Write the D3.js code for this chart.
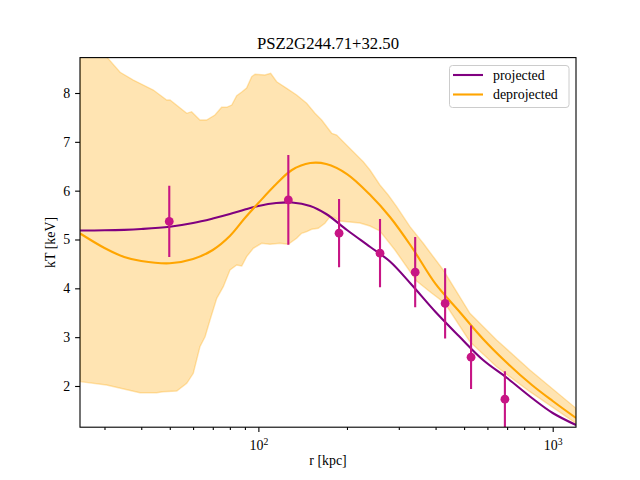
<!DOCTYPE html>
<html>
<head>
<meta charset="utf-8">
<script src="https://cdn.jsdelivr.net/npm/d3@7"></script>
<style>
  body { margin: 0; background: #fff; }
</style>
</head>
<body>
<div id="chart"></div>
<script>
// data points (radius in kpc, temperature in keV)
const pointR = [49.8, 126.4, 188, 259, 341, 431, 528, 688]
const pointT = [5.37, 5.81, 5.13, 4.72, 4.33, 3.69, 2.59, 1.73]
const pointErr = [0.73, 0.92, 0.70, 0.70, 0.72, 0.72, 0.65, 0.57]

// model curves
const curveR = [24.8, 30, 35, 40, 50, 60, 70, 80, 90, 100, 115, 130, 150, 170, 200, 240, 280, 330, 400, 480, 580, 700, 850, 1000, 1200]
const projT = [5.184, 5.188, 5.198, 5.215, 5.262, 5.338, 5.43, 5.522, 5.614, 5.686, 5.747, 5.758, 5.686, 5.522, 5.194, 4.846, 4.549, 4.088, 3.515, 3.024, 2.532, 2.163, 1.754, 1.447, 1.201]
const deprojT = [5.123, 4.826, 4.641, 4.559, 4.512, 4.6, 4.785, 5.071, 5.44, 5.747, 6.136, 6.423, 6.566, 6.546, 6.341, 5.911, 5.461, 4.867, 4.089, 3.536, 2.963, 2.471, 2.02, 1.692, 1.344]

// uncertainty band of deprojected profile
const bandUpR = [24.8, 30.5, 33.9, 37.6, 43.95, 48.8, 50.1, 57.1, 59.3, 63.3, 66.7, 71.2, 75.0, 78.0, 81.2, 84.4, 87.8, 91.2, 94.9, 97.4, 105.3, 110.1, 115.4, 124.8, 134.9, 145.9, 155.7, 164.1, 177.5, 184.5, 194.3, 210.1, 227.2, 239.4, 258.8, 276.2, 295.0, 327.3, 363.2, 377.7, 424.8, 523.2, 644.8, 836.7, 1200]
const bandUpT = [9.05, 8.74, 8.424, 8.266, 8.061, 7.857, 7.857, 7.584, 7.617, 7.447, 7.447, 7.549, 7.707, 7.707, 7.754, 7.945, 8.02, 8.102, 8.334, 8.383, 8.369, 8.403, 8.231, 8.096, 7.959, 7.789, 7.584, 7.447, 7.175, 7.14, 7.003, 6.797, 6.593, 6.423, 6.116, 5.911, 5.672, 5.262, 4.922, 4.785, 4.375, 3.488, 2.942, 2.327, 1.543]
const bandLoR = [24.8, 30.5, 39.6, 45.1, 47.4, 52.8, 57.1, 60.1, 63.3, 65.9, 68.5, 72.2, 76.0, 80.1, 84.4, 87.8, 91.2, 96.1, 102.6, 109.5, 118.4, 126.3, 134.9, 140.3, 145.9, 151.7, 159.7, 168.3, 175.1, 181, 189.3, 204.8, 221.4, 239.4, 258.8, 291.1, 344.9, 382.7, 430.4, 523.2, 644.8, 836.7, 1200]
const bandLoT = [2.09, 2.02, 1.862, 1.862, 1.883, 1.897, 2.055, 2.26, 2.804, 3.009, 3.351, 3.796, 4.033, 4.375, 4.478, 4.457, 4.648, 4.82, 4.922, 4.902, 4.922, 4.902, 5.024, 5.127, 5.16, 5.209, 5.229, 5.332, 5.467, 5.45, 5.379, 5.358, 5.338, 5.276, 5.174, 4.785, 4.15, 3.931, 3.693, 2.907, 2.395, 1.883, 1.236]

const yTicks = [2, 3, 4, 5, 6, 7, 8]
const xMajor = [100, 1000]
const xMinor = [30, 40, 50, 60, 70, 80, 90, 200, 300, 400, 500, 600, 700, 800, 900]

const W = 640, H = 480
const margin = {top: 57.6, right: 64, bottom: 52.8, left: 80}
const FONT = "'Liberation Serif', 'Times New Roman', serif"

const svg = d3.select("#chart")
  .append("svg")
  .attr("width", W)
  .attr("height", H)
  .style("font-family", FONT)

const x = d3.scaleLog()
  .domain([24.77, 1200])
  .range([margin.left, W - margin.right])
const y = d3.scaleLinear()
  .domain([1.156, 8.725])
  .range([H - margin.bottom, margin.top])

svg.append("clipPath").attr("id", "plot")
  .append("rect")
  .attr("x", margin.left).attr("y", margin.top)
  .attr("width", W - margin.left - margin.right)
  .attr("height", H - margin.top - margin.bottom)

const g = svg.append("g").attr("clip-path", "url(#plot)")

// band
const up = bandUpR.map((r, i) => [x(r), y(bandUpT[i])])
const lo = bandLoR.map((r, i) => [x(r), y(bandLoT[i])]).reverse()
g.append("path")
  .attr("d", d3.line().curve(d3.curveLinearClosed)(up.concat(lo)))
  .attr("fill", "#ffa500")
  .attr("fill-opacity", 0.3)
  .attr("stroke", "#ffa500")
  .attr("stroke-opacity", 0.3)
  .attr("stroke-width", 1.4)

const line = d3.line()
  .x(d => x(d[0]))
  .y(d => y(d[1]))
  .curve(d3.curveCatmullRom.alpha(0.5))

g.append("path")
  .attr("d", line(curveR.map((r, i) => [r, projT[i]])))
  .attr("fill", "none")
  .attr("stroke", "purple")
  .attr("stroke-width", 2.1)

g.append("path")
  .attr("d", line(curveR.map((r, i) => [r, deprojT[i]])))
  .attr("fill", "none")
  .attr("stroke", "orange")
  .attr("stroke-width", 2.1)

// error bars + points
const pts = pointR.map((r, i) => ({r: r, t: pointT[i], e: pointErr[i]}))
g.selectAll(".err")
  .data(pts)
  .join("line")
  .attr("x1", d => x(d.r)).attr("x2", d => x(d.r))
  .attr("y1", d => y(d.t - d.e)).attr("y2", d => y(d.t + d.e))
  .attr("stroke", "mediumvioletred")
  .attr("stroke-width", 2.1)
g.selectAll(".pt")
  .data(pts)
  .join("circle")
  .attr("cx", d => x(d.r))
  .attr("cy", d => y(d.t))
  .attr("r", 4.4)
  .attr("fill", "mediumvioletred")

// axes
const xAxis = svg.append("g")
  .attr("transform", `translate(0, ${H - margin.bottom})`)
  .call(d3.axisBottom(x).tickValues(xMajor).tickSize(4.9).tickPadding(5).tickFormat(""))
xAxis.selectAll(".tick text")
  .style("font-size", "13.9px")
  .attr("dy", "0.9em")
  .each(function(d) {
    const t = d3.select(this)
    t.append("tspan").text("10")
    t.append("tspan").attr("dy", "-0.45em").style("font-size", "9.7px").text(Math.round(Math.log10(d)))
  })
svg.append("g")
  .attr("transform", `translate(0, ${H - margin.bottom})`)
  .call(d3.axisBottom(x).tickValues(xMinor).tickSize(2.8).tickFormat(""))

const yAxis = svg.append("g")
  .attr("transform", `translate(${margin.left}, 0)`)
  .call(d3.axisLeft(y).tickValues(yTicks).tickSize(4.9).tickPadding(5).tickFormat(d3.format("d")))
yAxis.selectAll(".tick text").style("font-size", "13.9px")

svg.selectAll(".tick text").style("font-family", FONT).attr("fill", "#000")
svg.selectAll(".domain").remove()
svg.selectAll(".tick line").attr("stroke", "#000").attr("stroke-width", 1.1)

svg.append("rect")
  .attr("x", margin.left).attr("y", margin.top)
  .attr("width", W - margin.left - margin.right)
  .attr("height", H - margin.top - margin.bottom)
  .attr("fill", "none")
  .attr("stroke", "#000")
  .attr("stroke-width", 1.1)

// labels
svg.append("text")
  .attr("x", 328).attr("y", 49)
  .attr("text-anchor", "middle")
  .style("font-family", FONT)
  .style("font-size", "16.7px")
  .text("PSZ2G244.71+32.50")

svg.append("text")
  .attr("x", 328).attr("y", 465)
  .attr("text-anchor", "middle")
  .style("font-family", FONT)
  .style("font-size", "13.9px")
  .text("r [kpc]")

svg.append("text")
  .attr("transform", `translate(55, ${(margin.top + H - margin.bottom) / 2}) rotate(-90)`)
  .attr("text-anchor", "middle")
  .style("font-family", FONT)
  .style("font-size", "13.9px")
  .text("kT [keV]")

// legend
const legend = svg.append("g")
legend.append("rect")
  .attr("x", 449.5).attr("y", 65.5)
  .attr("width", 119.5).attr("height", 42)
  .attr("rx", 3)
  .attr("fill", "#fff").attr("fill-opacity", 0.8)
  .attr("stroke", "#cccccc")
const legendItems = [["projected", "purple"], ["deprojected", "orange"]]
legendItems.forEach((d, i) => {
  const yy = 75 + i * 19.5
  legend.append("line")
    .attr("x1", 453).attr("x2", 483)
    .attr("y1", yy).attr("y2", yy)
    .attr("stroke", d[1]).attr("stroke-width", 2.1)
  legend.append("text")
    .attr("x", 493).attr("y", yy + 4.5)
    .style("font-family", FONT)
    .style("font-size", "13.9px")
    .text(d[0])
})
</script>
</body>
</html>
